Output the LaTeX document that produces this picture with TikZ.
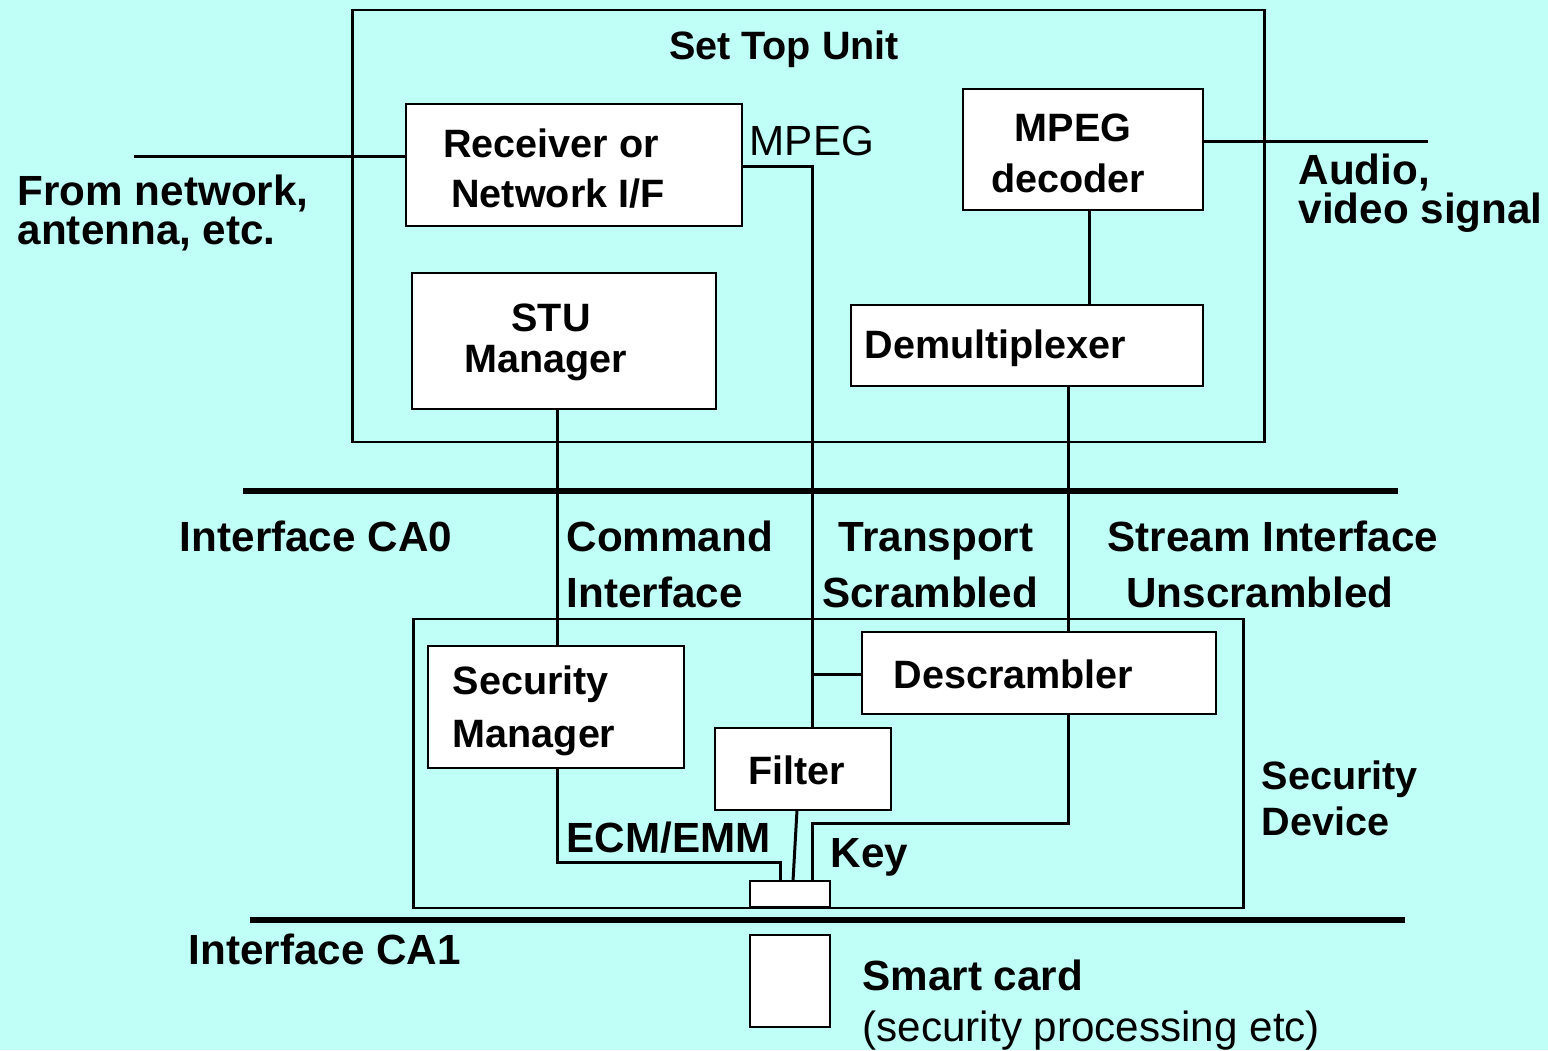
\documentclass[tikz,border=0pt]{standalone}
\usepackage{fontspec}
\setmainfont{Liberation Sans}
\definecolor{bgcyan}{RGB}{191,255,248}
\begin{document}
\begin{tikzpicture}[x=0.01cm,y=-0.01cm,
  box/.style={draw=black, fill=white, line width=0.75pt, inner sep=0pt},
  frame/.style={draw=black, line width=0.75pt, inner sep=0pt},
  wire/.style={draw=black, line width=0.85pt},
  bus/.style={draw=black, line width=1.7pt},
  big/.style={font=\fontsize{12}{14}\selectfont\bfseries, inner sep=0pt, anchor=base},
  mid/.style={font=\fontsize{11.25}{13}\selectfont\bfseries, inner sep=0pt, anchor=base},
  plain/.style={font=\fontsize{12}{14}\selectfont, inner sep=0pt, anchor=base}]
\fill[bgcyan] (0,0) rectangle (1548,1050);
\useasboundingbox (0,0) rectangle (1548,1050);

% Set Top Unit frame
\node[frame, minimum width=9.11cm, minimum height=4.32cm] (stu) at (808.5,226) {};
\node[mid] (stutitle) at (784,59) {Set Top Unit};

% Receiver
\node[box, minimum width=3.36cm, minimum height=1.22cm] (recv) at (574,165) {};
\node[mid] (recv1) at (551,157) {Receiver or};
\node[mid] (recv2) at (558,207) {Network I/F};
\coordinate (netin) at (134,156);
\draw[wire] (netin) -- (recv.west |- netin);
\node[big, anchor=base west] (from1) at (17,205) {From network,};
\node[big, anchor=base west] (from2) at (17,244) {antenna, etc.};
\node[plain, anchor=base west] (mpeglbl) at (749,155) {MPEG};

% MPEG decoder
\node[box, minimum width=2.40cm, minimum height=1.21cm] (dec) at (1083,149.5) {};
\node[mid] (dec1) at (1073,141) {MPEG};
\node[mid] (dec2) at (1068,192) {decoder};
\coordinate (avout) at (1428,141);
\draw[wire] (dec.east |- avout) -- (avout);
\node[big, anchor=base west] (av1) at (1298,184) {Audio,};
\node[big, anchor=base west] (av2) at (1298,223) {video signal};

% Demultiplexer
\node[box, minimum width=3.52cm, minimum height=0.81cm] (demux) at (1027,345.5) {};
\node[mid, anchor=base west] (demuxt) at (864,358) {Demultiplexer};
\draw[wire] (1089,210) -- (1089,305);

% STU Manager
\node[box, minimum width=3.04cm, minimum height=1.36cm] (stum) at (564,341) {};
\node[mid] (stum1) at (551,331) {STU};
\node[mid] (stum2) at (546,372) {Manager};

% Interfaces
\coordinate (ca0a) at (243,491);
\coordinate (ca0b) at (1398,491);
\draw[bus] (ca0a) -- (ca0b);
\coordinate (ca1a) at (250,920);
\coordinate (ca1b) at (1405,920);
\draw[bus] (ca1a) -- (ca1b);
\node[big] (ca0) at (316,551) {Interface CA0};
\node[big, anchor=base west] (cmd1) at (566,551) {Command};
\node[big, anchor=base west] (cmd2) at (566,607) {Interface};
\node[big] (tr1) at (936,551) {Transport};
\node[big] (tr2) at (930,607) {Scrambled};
\node[big] (si1) at (1273,551) {Stream Interface};
\node[big] (si2) at (1260,607) {Unscrambled};
\node[big, anchor=base west] (ca1) at (188,964) {Interface CA1};

% Security device frame
\node[frame, minimum width=8.29cm, minimum height=2.89cm] (secdev) at (828.5,763.5) {};
\node[mid, anchor=base west] (sd1) at (1261,789) {Security};
\node[mid, anchor=base west] (sd2) at (1261,835) {Device};

% Security Manager
\node[box, minimum width=2.56cm, minimum height=1.22cm] (secm) at (556,707) {};
\node[mid, anchor=base west] (secm1) at (452,694) {Security};
\node[mid, anchor=base west] (secm2) at (452,747) {Manager};

% Descrambler
\node[box, minimum width=3.54cm, minimum height=0.82cm] (desc) at (1039,673) {};
\node[mid, anchor=base west] (desct) at (893,688) {Descrambler};

% Filter
\node[box, minimum width=1.76cm, minimum height=0.82cm] (filt) at (803,769) {};
\node[mid] (filtt) at (797,784) {Filter};

% small card slot
\node[box, minimum width=0.80cm, minimum height=0.26cm] (slot) at (790,894) {};

% Smart card
\node[box, minimum width=0.80cm, minimum height=0.92cm] (card) at (790,981) {};
\node[big, anchor=base west] (sc1) at (862,990) {Smart card};
\node[plain, anchor=base west] (sc2) at (862,1041) {(security processing etc)};

% wires
\draw[wire] (recv.east |- 0,166) -- (812,166) -- (812,728);
\draw[wire] (812,674) -- (desc.west |- 0,674);
\draw[wire] (1068,386) -- (1068,632);
\draw[wire] (557,409) -- (557,646);
\draw[wire] (557,768) -- (557,862) -- (780,862) -- (780,881);
\draw[wire] (797,810) -- (793,881);
\draw[wire] (1068,714) -- (1068,823) -- (812,823) -- (812,881);
\node[big, anchor=base west] (ecm) at (566,852) {ECM/EMM};
\node[big, anchor=base west] (key) at (830,867) {Key};
\end{tikzpicture}
\end{document}
